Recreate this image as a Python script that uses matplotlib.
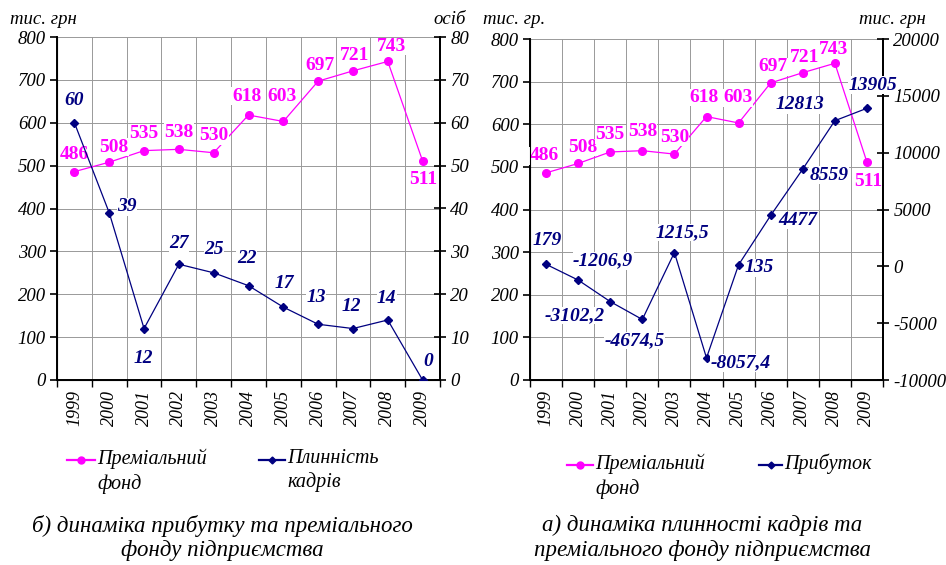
import matplotlib
matplotlib.use("Agg")
import matplotlib.pyplot as plt
from matplotlib.lines import Line2D
import numpy as np

plt.rcParams['font.family'] = 'Liberation Serif'
plt.rcParams['font.style'] = 'italic'
plt.rcParams['axes.unicode_minus'] = False

years = ["1999", "2000", "2001", "2002", "2003", "2004", "2005", "2006", "2007", "2008", "2009"]
fund = [486, 508, 535, 538, 530, 618, 603, 697, 721, 743, 511]
turnover = [60, 39, 12, 27, 25, 22, 17, 13, 12, 14, 0]
profit = [179, -1206.9, -3102.2, -4674.5, 1215.5, -8057.4, 135, 4477, 8559, 12813, 13905]
profit_labels = ["179", "-1206,9", "-3102,2", "-4674,5", "1215,5", "-8057,4", "135", "4477", "8559", "12813", "13905"]

# label offsets (pixels: dx, dy upward)
fund_off_l = [(0, 17), (5, 15), (0, 17), (0, 17), (0, 17), (-2, 19), (-1, 25), (2, 16), (2, 15), (4, 15), (1, -19)]
turn_off_l = [(0, 22), (18, 6), (-1, -30), (0, 21), (0, 23), (-2, 27), (1, 24), (-2, 27), (-2, 22), (-1, 21), (6, 18)]
fund_off_r = [(-2, 17), (5, 16), (0, 17), (0, 19), (0, 17), (-3, 19), (-1, 25), (2, 16), (2, 15), (-1, 14), (1, -19)]
prof_off_r = [(1, 24), (25, 19), (-36, -14), (-8, -21), (8, 20), (34, -5), (21, -3), (27, -5), (26, -6), (-35, 16), (6, 23)]

MAG = "#ff00ff"
NAVY = "#000080"
W, H = 946, 565
fig = plt.figure(figsize=(W / 100, H / 100), dpi=100)
x = np.arange(len(years))
TICK_FS = 13.5


def px_axes(l, t, r, b):
    return fig.add_axes([l / W, 1 - b / H, (r - l) / W, (b - t) / H])


def style_base(ax, ymax):
    ax.set_xlim(-0.5, len(years) - 0.5)
    ax.set_ylim(0, ymax)
    ax.set_yticks(np.arange(0, ymax + 1, 100))
    ax.set_xticks(np.arange(-0.5, len(years), 1.0))
    ax.set_xticklabels([])
    ax.set_xticks(x, minor=True)
    ax.set_xticklabels(years, minor=True, rotation=90, fontsize=13)
    ax.tick_params(axis='x', which='minor', length=0, pad=7)
    ax.tick_params(axis='x', which='major', length=5, direction='out', width=1)
    ax.tick_params(axis='y', length=5, direction='out', width=1.2, labelsize=TICK_FS, pad=3)
    ax.grid(True, which='major', color='#999999', linewidth=0.7)
    ax.set_axisbelow(True)
    ax.spines['top'].set_visible(False)
    for s in ['left', 'right', 'bottom']:
        ax.spines[s].set_linewidth(1.4)


def annotate(ax, xs, ys, labels, offs, color, italic):
    for xi, yi, lab, (dx, dy) in zip(xs, ys, labels, offs):
        ax.annotate(lab, (xi, yi), xytext=(dx * 0.72, dy * 0.72), textcoords='offset points',
                    ha='center', va='center', fontsize=14, fontweight='bold',
                    style='italic' if italic else 'normal', color=color,
                    bbox=dict(facecolor='white', edgecolor='none', pad=0.3), zorder=5)


def style_right(ax2, lo, hi, step):
    ax2.set_ylim(lo, hi)
    ax2.set_yticks(np.arange(lo, hi + 1, step))
    ax2.tick_params(axis='y', length=9, direction='inout', width=1.2, labelsize=TICK_FS, pad=3)
    ax2.spines['top'].set_visible(False)
    ax2.spines['right'].set_linewidth(1.4)


# ---------- left panel ----------
axL = px_axes(57, 37, 440, 380)
style_base(axL, 800)
axL.plot(x, fund, color=MAG, marker='o', markersize=5.5, linewidth=0.9, zorder=3)
annotate(axL, x, fund, [str(v) for v in fund], fund_off_l, MAG, False)
axL2 = axL.twinx()
style_right(axL2, 0, 80, 10)
axL2.plot(x, turnover, color=NAVY, marker='D', markersize=4, linewidth=0.9, zorder=3)
annotate(axL2, x, turnover, [str(v) for v in turnover], turn_off_l, NAVY, True)
fig.text(10 / W, 1 - 20 / H, "тис. грн", fontsize=13.5, va='center', ha='left')
fig.text(466 / W, 1 - 20 / H, "осіб", fontsize=13.5, va='center', ha='right')

# ---------- right panel ----------
axR = px_axes(530, 39, 883, 380)
style_base(axR, 800)
axR.plot(x, fund, color=MAG, marker='o', markersize=5.5, linewidth=0.9, zorder=3)
annotate(axR, x, fund, [str(v) for v in fund], fund_off_r, MAG, False)
axR2 = axR.twinx()
style_right(axR2, -10000, 20000, 5000)
axR2.plot(x, profit, color=NAVY, marker='D', markersize=4, linewidth=0.9, zorder=3)
annotate(axR2, x, profit, profit_labels, prof_off_r, NAVY, True)
fig.text(483 / W, 1 - 20 / H, "тис. гр.", fontsize=13.5, va='center', ha='left')
fig.text(926 / W, 1 - 20 / H, "тис. грн", fontsize=13.5, va='center', ha='right')


# ---------- legends ----------
def legend_entry(x0, x1, y, color, marker, ms, text):
    fig.add_artist(Line2D([x0 / W, x1 / W], [1 - y / H, 1 - y / H], color=color, linewidth=1.6,
                          transform=fig.transFigure))
    fig.add_artist(Line2D([(x0 + x1) / 2 / W], [1 - y / H], color=color, marker=marker, markersize=ms,
                          linestyle='none', transform=fig.transFigure))
    fig.text((x1 + 2) / W, 1 - (y - 11) / H, text, fontsize=14.5, va='top', ha='left',
             linespacing=1.3)


legend_entry(67, 95, 460, MAG, 'o', 5, "Преміальний\nфонд")
legend_entry(259, 285, 460, NAVY, 'D', 3.5, "Плинність\nкадрів")
legend_entry(567, 593, 465, MAG, 'o', 5, "Преміальний\nфонд")
legend_entry(759, 782, 465, NAVY, 'D', 3.5, "Прибуток")

# ---------- captions ----------
fig.text(222 / W, 1 - 538 / H, "б) динаміка прибутку та преміального\nфонду підприємства",
         fontsize=16.5, ha='center', va='center', linespacing=1.2)
fig.text(702 / W, 1 - 538 / H, "а) динаміка плинності кадрів та\nпреміального фонду підприємства",
         fontsize=16.5, ha='center', va='center', linespacing=1.2)

fig.savefig("out.png", dpi=100)
